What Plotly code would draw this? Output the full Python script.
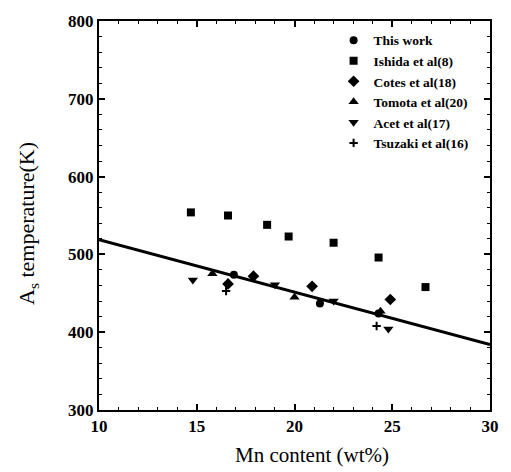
import plotly.graph_objects as go

# Data
this_work_x = [16.9, 21.3, 24.3]
this_work_y = [474, 437, 424]

ishida_x = [14.7, 16.6, 18.6, 19.7, 22.0, 24.3, 26.7]
ishida_y = [554, 550, 538, 523, 515, 496, 458]

cotes_x = [16.6, 17.9, 20.9, 24.9]
cotes_y = [462, 472, 459, 442]

tomota_x = [15.8, 20.0, 24.4]
tomota_y = [475, 445, 427]

acet_x = [14.8, 19.0, 22.0, 24.8]
acet_y = [467, 461, 440, 404]

tsuzaki_x = [16.5, 24.2]
tsuzaki_y = [453, 408]

fit_x = [10, 30]
fit_y = [519, 384]

series = [
    ("This work", this_work_x, this_work_y, "circle", 8),
    ("Ishida et al(8)", ishida_x, ishida_y, "square", 8),
    ("Cotes et al(18)", cotes_x, cotes_y, "diamond", 9),
    ("Tomota et al(20)", tomota_x, tomota_y, "triangle-up", 9),
    ("Acet et al(17)", acet_x, acet_y, "triangle-down", 9),
    ("Tsuzaki et al(16)", tsuzaki_x, tsuzaki_y, "cross-thin", 6),
]

fig = go.Figure()
fig.add_trace(go.Scatter(x=fit_x, y=fit_y, mode="lines",
                         line=dict(color="black", width=3), showlegend=False))
for name, xs, ys, sym, sz in series:
    fig.add_trace(go.Scatter(
        x=xs, y=ys, mode="markers", name=name,
        marker=dict(symbol=sym, size=sz, color="black",
                    line=dict(color="black", width=2 if sym == "cross-thin" else 0)),
    ))

font_family = "Liberation Serif"

axis_common = dict(
    showline=True, linecolor="black", linewidth=2, mirror="ticks",
    ticks="inside", ticklen=6, tickwidth=1.5, tickcolor="black",
    showgrid=False, zeroline=False,
    tickfont=dict(family=font_family, size=17, color="black", weight="bold"),
    minor=dict(ticks="inside", ticklen=3, tickcolor="black", tickwidth=1),
)

fig.update_xaxes(range=[10, 30], tickvals=[10, 15, 20, 25, 30],
                 minor_dtick=1, **axis_common)
fig.update_yaxes(range=[300, 800], tickvals=[300, 400, 500, 600, 700, 800],
                 minor_dtick=20, **axis_common)

fig.add_annotation(text="Mn content (wt%)", xref="paper", yref="paper",
                   x=0.545, y=-0.08, xanchor="center", yanchor="top",
                   showarrow=False,
                   font=dict(family=font_family, size=21, color="black"))
fig.add_annotation(text="A<sub>s</sub> temperature(K)", xref="paper", yref="paper",
                   x=-0.18, y=0.48, xanchor="center", yanchor="middle",
                   textangle=-90, showarrow=False,
                   font=dict(family=font_family, size=22, color="black"))

fig.update_layout(
    width=511, height=472,
    margin=dict(l=99, r=19, t=18, b=62),
    plot_bgcolor="white", paper_bgcolor="white",
    legend=dict(x=0.6, y=0.99, xanchor="left", yanchor="top",
                bgcolor="rgba(0,0,0,0)",
                font=dict(family=font_family, size=13.5, color="black", weight="bold"),
                itemwidth=30, tracegroupgap=0),
)

fig.write_html("out.html")
